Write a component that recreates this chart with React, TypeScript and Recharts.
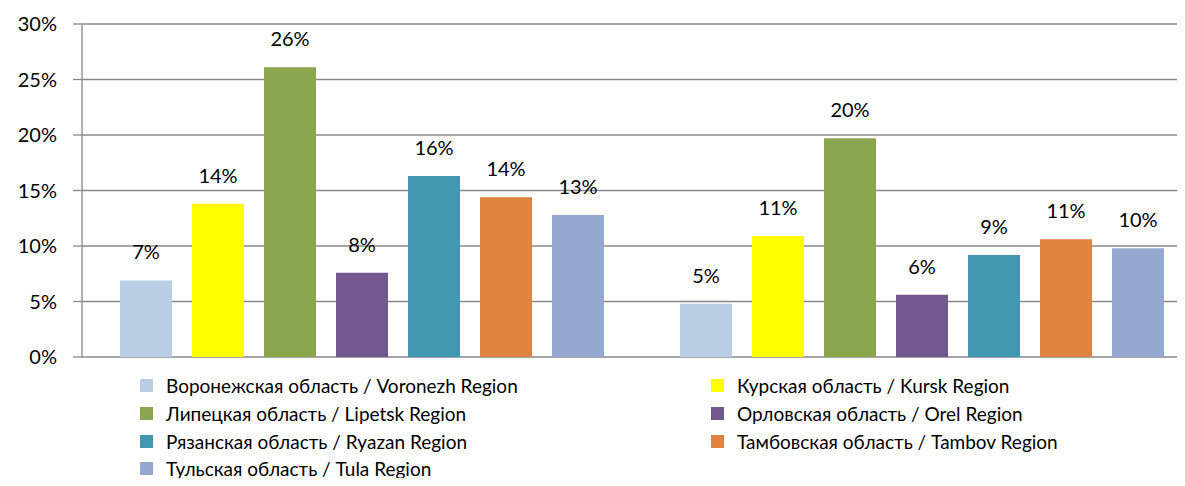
import React from 'react'
import { BarChart, Bar, XAxis, YAxis, CartesianGrid, LabelList } from 'recharts'

const categories = ['A', 'B']
const seriesNames = [
  'Воронежская область / Voronezh Region',
  'Курская область / Kursk Region',
  'Липецкая область / Lipetsk Region',
  'Орловская область / Orel Region',
  'Рязанская область / Ryazan Region',
  'Тамбовская область / Tambov Region',
  'Тульская область / Tula Region'
]
const voronezh = [0.069, 0.048]
const kursk = [0.138, 0.109]
const lipetsk = [0.261, 0.197]
const orel = [0.076, 0.056]
const ryazan = [0.163, 0.092]
const tambov = [0.144, 0.106]
const tula = [0.128, 0.098]
const colors = ['#B9CDE5', '#FFFF00', '#8BA54E', '#73578F', '#4298B0', '#DE8340', '#95A9D0']
const yTicks = [0, 0.05, 0.1, 0.15, 0.2, 0.25, 0.3]

const seriesValues = [voronezh, kursk, lipetsk, orel, ryazan, tambov, tula]
const data = categories.map((c, i) => {
  const row: any = { name: c }
  seriesValues.forEach((vals, s) => { row['s' + s] = vals[i] })
  return row
})

const font = 'Lato, "Open Sans", sans-serif'
const pct = (v: any) => Math.round(Number(v) * 100) + '%'

export default function App() {
  return (
    <div style={{ position: 'relative', margin: -8, width: 1185, height: 486, overflow: 'hidden', background: '#fff', fontFamily: font }}>
      <BarChart width={1202} height={486} data={data} margin={{ top: 24, right: 0, bottom: 129, left: 0 }} barSize={52} barGap={20}>
        <CartesianGrid vertical={false} stroke="#888" strokeWidth={1.3} />
        <XAxis dataKey="name" hide />
        <YAxis
          width={82}
          domain={[0, 0.3]}
          ticks={yTicks}
          tickFormatter={pct}
          tickSize={9}
          tickMargin={16}
          axisLine={{ stroke: '#888', strokeWidth: 1.3 }}
          tickLine={{ stroke: '#888', strokeWidth: 1.3 }}
          tick={{ fill: '#000', fontSize: 20, fontFamily: font }}
        />
        {seriesNames.map((n, s) => (
          <Bar key={n} dataKey={'s' + s} name={n} fill={colors[s]} isAnimationActive={false}>
            <LabelList dataKey={'s' + s} position="top" offset={21} formatter={pct} fill="#000" fontSize={20} fontFamily={font} />
          </Bar>
        ))}
      </BarChart>
      <div style={{ position: 'absolute', left: 140, top: 372, display: 'grid', gridTemplateColumns: '571px 400px', rowGap: 0 }}>
        {seriesNames.map((n, s) => (
          <div key={n} style={{ display: 'flex', alignItems: 'center', height: 27.7, fontSize: 19, color: '#000', whiteSpace: 'nowrap' }}>
            <span style={{ width: 13, height: 13, background: colors[s], marginRight: 13, flex: 'none' }} />
            {n}
          </div>
        ))}
      </div>
    </div>
  )
}
